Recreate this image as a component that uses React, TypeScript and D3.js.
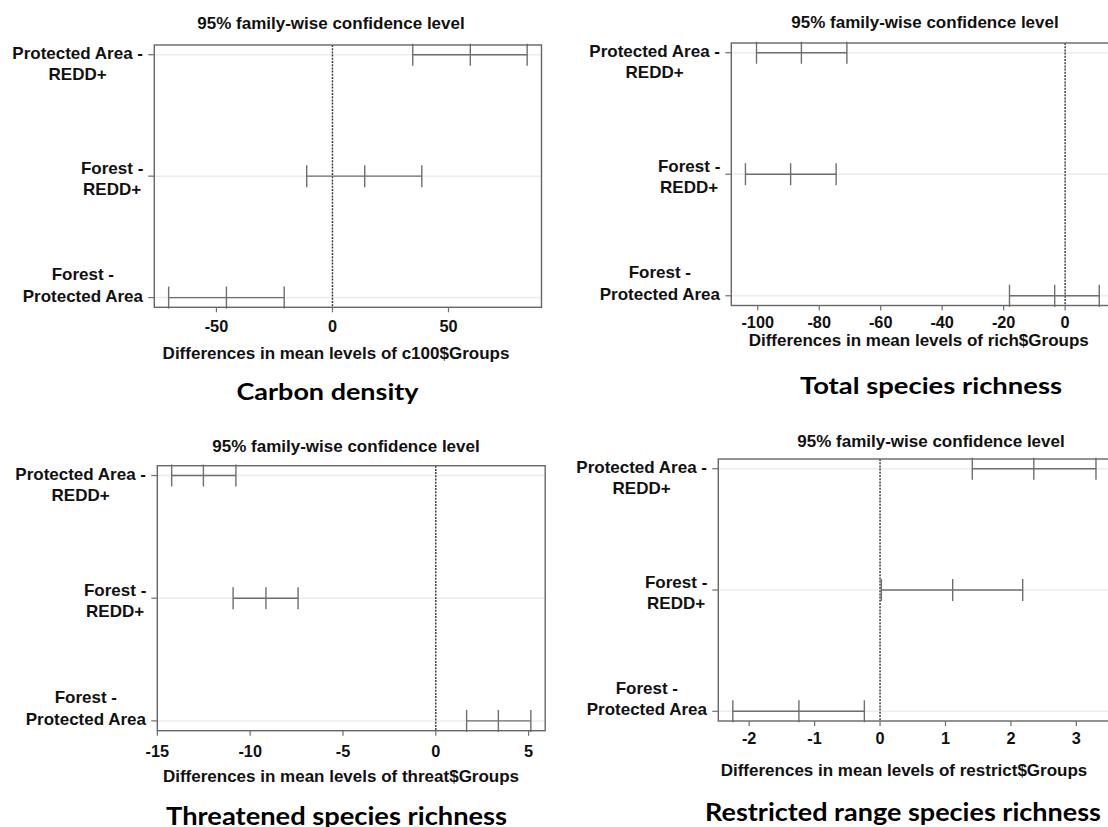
import React from "react";
import * as d3 from "d3";

const W = 1108;
const H = 827;

// comparison labels, top row first (two lines each)
const comparisons = [
  ["Protected Area -", "REDD+"],
  ["Forest -", "REDD+"],
  ["Forest -", "Protected Area"],
];

// Tukey HSD results
const carbonDiff = [59.4, 13.9, -45.7];
const carbonLwr = [34.6, -11.1, -70.6];
const carbonUpr = [83.9, 38.5, -20.8];

const richDiff = [-85.8, -89.3, -3.4];
const richLwr = [-100.4, -104.0, -18.1];
const richUpr = [-71.0, -74.5, 11.1];

const threatDiff = [-12.52, -9.15, 3.37];
const threatLwr = [-14.23, -10.92, 1.66];
const threatUpr = [-10.77, -7.42, 5.12];

const restrictDiff = [2.35, 1.11, -1.24];
const restrictLwr = [1.41, 0.02, -2.25];
const restrictUpr = [3.3, 2.18, -0.24];

const carbonTicks = [-50, 0, 50];
const richTicks = [-100, -80, -60, -40, -20, 0];
const threatTicks = [-15, -10, -5, 0, 5];
const restrictTicks = [-2, -1, 0, 1, 2, 3];

const titleText = "95% family-wise confidence level";

const RFONT = "'Liberation Sans', Arial, sans-serif";
const CAPFONT = "Lato, 'Open Sans', sans-serif";
const FS = 17;
const TICKFS = 16.3;

// layout for each panel (pixels)
const panels = [
  {
    diff: carbonDiff, lwr: carbonLwr, upr: carbonUpr, ticks: carbonTicks,
    xlab: "Differences in mean levels of c100$Groups", caption: "Carbon density",
    left: 154.3, right: 541.5, top: 45, bottom: 307.3,
    titleX: 331, titleY: 29, tickY: 332, labX: 336, labY: 359,
    capX: 327.5, capY: 400, capW: 182, capFs: 22,
  },
  {
    diff: richDiff, lwr: richLwr, upr: richUpr, ticks: richTicks,
    xlab: "Differences in mean levels of rich$Groups", caption: "Total species richness",
    left: 731.3, right: 1113.4, top: 43, bottom: 305.5,
    titleX: 925, titleY: 27.5, tickY: 328, labX: 918.7, labY: 345.5,
    capX: 931, capY: 393.5, capW: 262, capFs: 23,
  },
  {
    diff: threatDiff, lwr: threatLwr, upr: threatUpr, ticks: threatTicks,
    xlab: "Differences in mean levels of threat$Groups", caption: "Threatened species richness",
    left: 157.3, right: 545.2, top: 465.7, bottom: 730.7,
    titleX: 346, titleY: 451.5, tickY: 756.5, labX: 341, labY: 782,
    capX: 336.6, capY: 825, capW: 341, capFs: 24,
  },
  {
    diff: restrictDiff, lwr: restrictLwr, upr: restrictUpr, ticks: restrictTicks,
    xlab: "Differences in mean levels of restrict$Groups", caption: "Restricted range species richness",
    left: 718.3, right: 1110.5, top: 459, bottom: 721,
    titleX: 931, titleY: 446.5, tickY: 743.5, labX: 904, labY: 776,
    capX: 903, capY: 820.5, capW: 396, capFs: 24.5,
  },
];

let ctx: CanvasRenderingContext2D | null = null;
function textWidth(s: string) {
  if (!ctx) ctx = document.createElement("canvas").getContext("2d");
  if (!ctx) return s.length * FS * 0.55;
  ctx.font = `bold ${FS}px ${RFONT}`;
  return ctx.measureText(s).width;
}

// like R: extend the range by 4% each side
function rExtent(lo: number, hi: number) {
  const pad = (hi - lo) * 0.04;
  return [lo - pad, hi + pad];
}

// vertical justification of the multi-line row labels
const vjust = [0, 0.3, 1];
const LINE = 21.5;

function Panel({ p }: { p: any }) {
  const x = d3
    .scaleLinear()
    .domain(rExtent(d3.min(p.lwr) as number, d3.max(p.upr) as number))
    .range([p.left, p.right]);
  const y = d3
    .scaleLinear()
    .domain(rExtent(1, comparisons.length))
    .range([p.top, p.bottom]);

  const grey = "#6e6e6e";

  return (
    <g>
      <text x={p.titleX} y={p.titleY} textAnchor="middle" fontFamily={RFONT} fontWeight="bold" fontSize={FS} fill="#111">
        {titleText}
      </text>

      {/* faint row guides */}
      {comparisons.map((_, i) => (
        <line key={"g" + i} x1={p.left} x2={p.right} y1={y(i + 1)} y2={y(i + 1)} stroke="#ececec" strokeWidth={1.5} />
      ))}

      {/* zero reference */}
      <line x1={x(0)} x2={x(0)} y1={p.top} y2={p.bottom} stroke="#333" strokeWidth={1.4} strokeDasharray="2,1.2" />

      {/* intervals */}
      {comparisons.map((_, i) => {
        const yy = y(i + 1);
        return (
          <g key={"ci" + i} stroke={grey} strokeWidth={1.4}>
            <line x1={x(p.lwr[i])} x2={x(p.upr[i])} y1={yy} y2={yy} />
            {[p.lwr[i], p.diff[i], p.upr[i]].map((v: number, j: number) => (
              <line key={j} x1={x(v)} x2={x(v)} y1={yy - 11} y2={yy + 11} />
            ))}
          </g>
        );
      })}

      <rect x={p.left} y={p.top} width={p.right - p.left} height={p.bottom - p.top} fill="none" stroke="#666" strokeWidth={1.4} />

      {/* y axis ticks and labels */}
      {comparisons.map((lines, i) => {
        const yy = y(i + 1);
        const bw = d3.max(lines, (l) => textWidth(l)) as number;
        const cx = p.left - 11 - bw / 2;
        const first = yy - 2 - vjust[i] * LINE;
        return (
          <g key={"yl" + i}>
            <line x1={p.left - 6} x2={p.left} y1={yy} y2={yy} stroke={grey} strokeWidth={1.2} />
            {lines.map((l, k) => (
              <text key={k} x={cx} y={first + k * LINE + 6} textAnchor="middle" fontFamily={RFONT} fontWeight="bold" fontSize={FS} fill="#111">
                {l}
              </text>
            ))}
          </g>
        );
      })}

      {/* x axis */}
      {p.ticks.map((t: number) => (
        <g key={"xt" + t}>
          <line x1={x(t)} x2={x(t)} y1={p.bottom} y2={p.bottom + 5} stroke={grey} strokeWidth={1.2} />
          <text x={x(t)} y={p.tickY} textAnchor="middle" fontFamily={RFONT} fontWeight="bold" fontSize={TICKFS} fill="#111">
            {t}
          </text>
        </g>
      ))}
      <text x={p.labX} y={p.labY} textAnchor="middle" fontFamily={RFONT} fontWeight="bold" fontSize={FS} fill="#111">
        {p.xlab}
      </text>

      <text
        x={p.capX}
        y={p.capY}
        textAnchor="middle"
        fontFamily={CAPFONT}
        fontWeight="bold"
        fontSize={p.capFs}
        textLength={p.capW}
        lengthAdjust="spacingAndGlyphs"
        fill="#000"
      >
        {p.caption}
      </text>
    </g>
  );
}

export default function App() {
  return (
    <svg width={W} height={H} style={{ position: "absolute", left: 0, top: 0, background: "#fff" }}>
      <rect width={W} height={H} fill="#fff" />
      {panels.map((p, i) => (
        <Panel key={i} p={p} />
      ))}
    </svg>
  );
}
